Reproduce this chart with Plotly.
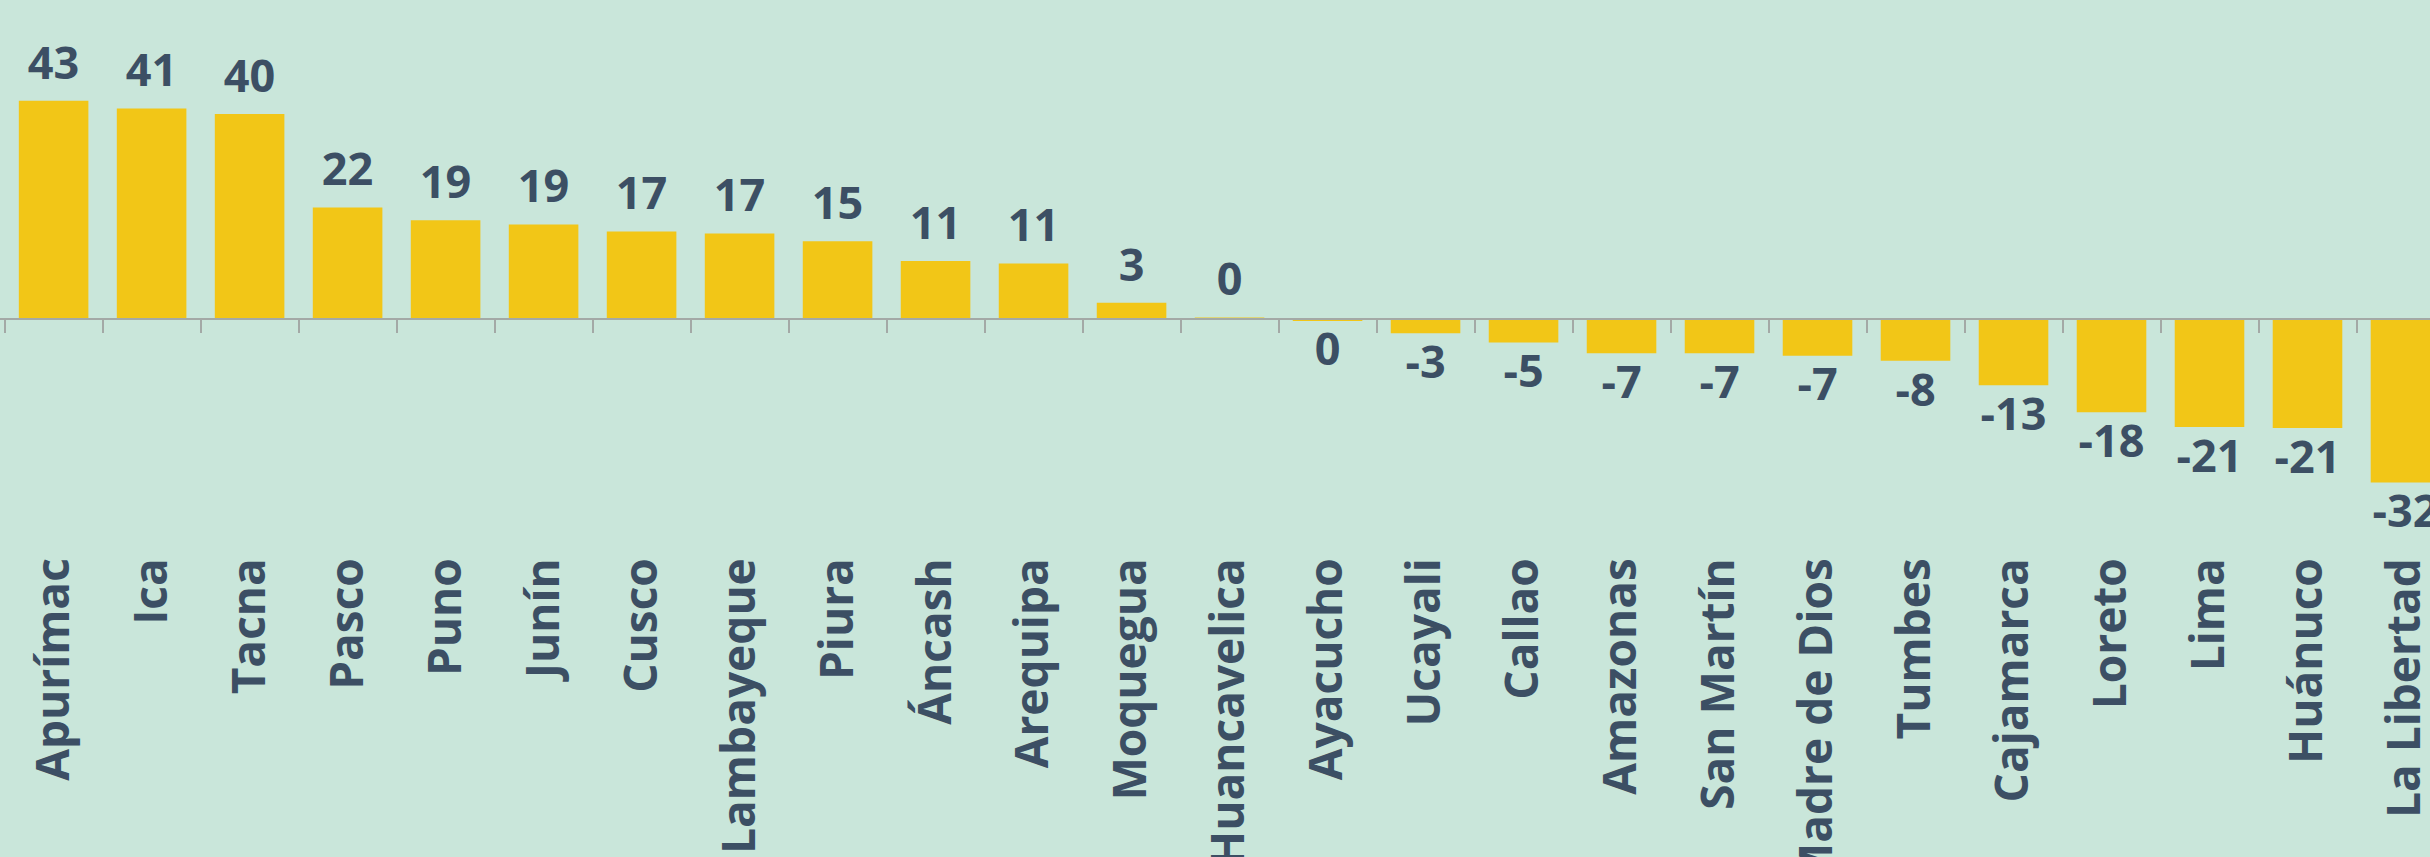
import plotly.graph_objects as go

BG = "#C9E6DA"
YELLOW = "#F2C617"
SLATE = "#3C4F64"
AXIS_GREY = "#A3A9A6"

regions = [
    "Apurímac", "Ica", "Tacna", "Pasco", "Puno", "Junín", "Cusco",
    "Lambayeque", "Piura", "Áncash", "Arequipa", "Moquegua", "Huancavelica",
    "Ayacucho", "Ucayali", "Callao", "Amazonas", "San Martín",
    "Madre de Dios", "Tumbes", "Cajamarca", "Loreto", "Lima", "Huánuco",
    "La Libertad",
]
values = [
    42.9, 41.4, 40.3, 21.9, 19.4, 18.6, 17.2, 16.8, 15.3, 11.4, 10.9, 3.2,
    0.3, -0.2, -2.8, -4.6, -6.7, -6.7, -7.2, -8.2, -13.0, -18.3, -21.2,
    -21.4, -32.1,
]
labels = [str(int(round(v))) for v in values]
label_pos = ["top center" if v >= 0 else "bottom center" for v in values]

y_range = [-44.8, 62.7]
x_range = [-0.547, 24.25]

fig = go.Figure()
fig.add_trace(go.Bar(
    x=regions,
    y=values,
    marker=dict(color=YELLOW, line=dict(width=0)),
    hoverinfo="x+y",
))
# value labels, sitting on the zero-line axis so it gets categories too
fig.add_trace(go.Scatter(
    x=regions,
    y=values,
    xaxis="x2",
    mode="markers+text",
    marker=dict(size=16, color="rgba(0,0,0,0)"),
    text=labels,
    textposition=label_pos,
    textfont=dict(family="Open Sans", size=45, color=SLATE, weight="bold"),
    cliponaxis=False,
    hoverinfo="skip",
))

zero_pos = (0 - y_range[0]) / (y_range[1] - y_range[0])

fig.update_layout(
    width=2430,
    height=857,
    margin=dict(l=0, r=0, t=0, b=310),
    paper_bgcolor=BG,
    plot_bgcolor=BG,
    bargap=0.29,
    showlegend=False,
    font=dict(family="Open Sans", color=SLATE),
    xaxis=dict(
        type="category",
        categoryarray=regions,
        range=x_range,
        automargin=False,
        showgrid=False,
        showline=False,
        ticks="",
        tickangle=-90,
        tickfont=dict(family="Open Sans", size=46, color=SLATE, weight="bold"),
        ticklabelstandoff=1,
        fixedrange=True,
    ),
    xaxis2=dict(
        type="category",
        categoryarray=regions,
        matches="x",
        overlaying="x",
        anchor="free",
        position=zero_pos,
        side="bottom",
        automargin=False,
        showline=True,
        linecolor=AXIS_GREY,
        linewidth=2,
        ticks="outside",
        tickson="boundaries",
        ticklen=13,
        tickwidth=2,
        tickcolor=AXIS_GREY,
        showticklabels=False,
        showgrid=False,
    ),
    yaxis=dict(
        range=y_range,
        visible=False,
        automargin=False,
        showgrid=False,
        zeroline=False,
        fixedrange=True,
    ),
)

# drop the browser's default 8px body margin so the chart sits flush
fig.write_html(
    "out.html",
    config={"displayModeBar": False},
    post_script=f"document.body.style.margin='0';"
                f"document.body.style.background='{BG}';",
)
